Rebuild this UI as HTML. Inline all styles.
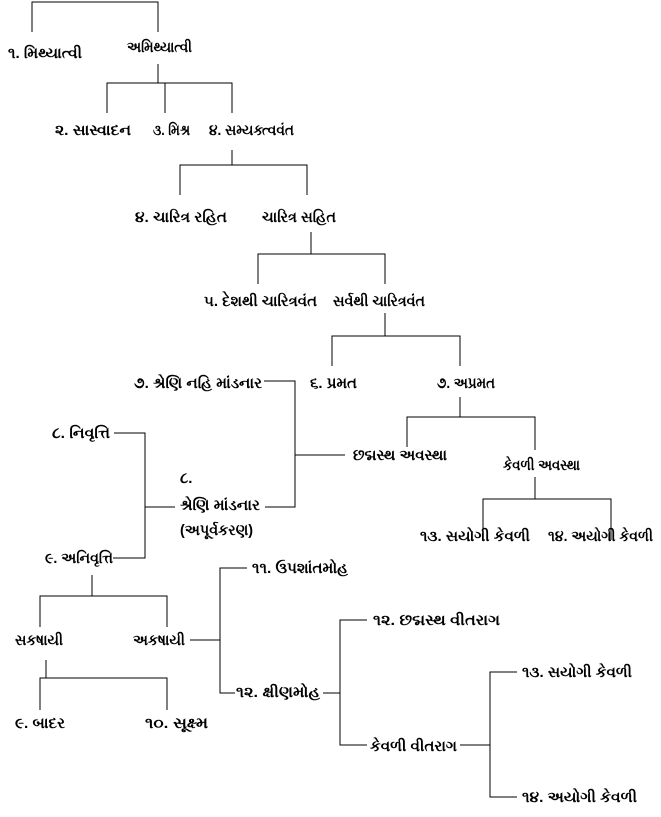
<!DOCTYPE html>
<html><head><meta charset="utf-8"><style>
html,body{margin:0;padding:0;background:#fff;width:661px;height:817px;overflow:hidden}
svg text{font-family:"Liberation Sans","Noto Sans CJK SC",sans-serif;font-size:15px;font-weight:bold;fill:#000}
</style></head><body>
<svg width="661" height="817" viewBox="0 0 661 817" xmlns="http://www.w3.org/2000/svg">
<g stroke="#000" stroke-width="1.2" fill="none" shape-rendering="crispEdges">
<path d="M32 32V2H158V32"/>
<path d="M158 64V83M107 113V83H232V113M165 83V113"/>
<path d="M232 150V165M180 195V165H307V195"/>
<path d="M311 232V254M258 284V254H385V284"/>
<path d="M385 313V336M332 366V336H460V366"/>
<path d="M264 381H295V507H265M295 455H345"/>
<path d="M460 397V417M407 447V417H535V450"/>
<path d="M535 477V499M483 540V499H611V540"/>
<path d="M114 433H145V558H113M145 507H175"/>
<path d="M92 575V596M40 627V596H167V627"/>
<path d="M190 640H220M247 568H220V693H235"/>
<path d="M46 660V678M40 710V678H167V710"/>
<path d="M323 693H340M367 620H340V745H367"/>
<path d="M460 745H490M517 672H490V797H517"/>
</g>
<g>
<text x="8" y="58" textLength="74" lengthAdjust="spacingAndGlyphs">૧. મિથ્યાત્વી</text>
<text x="127" y="52" textLength="65" lengthAdjust="spacingAndGlyphs">અમિથ્યાત્વી</text>
<text x="55" y="135" textLength="76" lengthAdjust="spacingAndGlyphs">૨. સાસ્વાદન</text>
<text x="153" y="135" textLength="37" lengthAdjust="spacingAndGlyphs">૩. મિશ્ર</text>
<text x="209" y="135" textLength="85" lengthAdjust="spacingAndGlyphs">૪. સમ્યક્ત્વવંત</text>
<text x="135" y="222" textLength="92" lengthAdjust="spacingAndGlyphs">૪. ચારિત્ર રહિત</text>
<text x="262" y="222" textLength="74" lengthAdjust="spacingAndGlyphs">ચારિત્ર સહિત</text>
<text x="204" y="306" textLength="113" lengthAdjust="spacingAndGlyphs">૫. દેશથી ચારિત્રવંત</text>
<text x="333" y="306" textLength="92" lengthAdjust="spacingAndGlyphs">સર્વથી ચારિત્રવંત</text>
<text x="134" y="388" textLength="128" lengthAdjust="spacingAndGlyphs">૭. શ્રેણિ નહિ માંડનાર</text>
<text x="310" y="388" textLength="47" lengthAdjust="spacingAndGlyphs">૬. પ્રમત</text>
<text x="437" y="388" textLength="58" lengthAdjust="spacingAndGlyphs">૭. અપ્રમત</text>
<text x="52" y="438" textLength="58" lengthAdjust="spacingAndGlyphs">૮. નિવૃત્તિ</text>
<text x="353" y="460" textLength="94" lengthAdjust="spacingAndGlyphs">છદ્મસ્થ અવસ્થા</text>
<text x="503" y="470" textLength="77" lengthAdjust="spacingAndGlyphs">કેવળી અવસ્થા</text>
<text x="180" y="483">૮.</text>
<text x="180" y="510" textLength="80" lengthAdjust="spacingAndGlyphs">શ્રેણિ માંડનાર</text>
<text x="180" y="535" textLength="73" lengthAdjust="spacingAndGlyphs">(અપૂર્વકરણ)</text>
<text x="420" y="541" textLength="110" lengthAdjust="spacingAndGlyphs">૧૩. સયોગી કેવળી</text>
<text x="548" y="541" textLength="105" lengthAdjust="spacingAndGlyphs">૧૪. અયોગી કેવળી</text>
<text x="45" y="563" textLength="68" lengthAdjust="spacingAndGlyphs">૯. અનિવૃત્તિ</text>
<text x="252" y="573" textLength="96" lengthAdjust="spacingAndGlyphs">૧૧. ઉપશાંતમોહ</text>
<text x="373" y="625" textLength="127" lengthAdjust="spacingAndGlyphs">૧૨. છદ્મસ્થ વીતરાગ</text>
<text x="15" y="645" textLength="48" lengthAdjust="spacingAndGlyphs">સકષાયી</text>
<text x="133" y="645" textLength="52" lengthAdjust="spacingAndGlyphs">અકષાયી</text>
<text x="522" y="677" textLength="110" lengthAdjust="spacingAndGlyphs">૧૩. સયોગી કેવળી</text>
<text x="236" y="697" textLength="84" lengthAdjust="spacingAndGlyphs">૧૨. ક્ષીણમોહ</text>
<text x="15" y="728" textLength="50" lengthAdjust="spacingAndGlyphs">૯. બાદર</text>
<text x="145" y="728" textLength="63" lengthAdjust="spacingAndGlyphs">૧૦. સૂક્ષ્મ</text>
<text x="370" y="751" textLength="87" lengthAdjust="spacingAndGlyphs">કેવળી વીતરાગ</text>
<text x="522" y="802" textLength="115" lengthAdjust="spacingAndGlyphs">૧૪. અયોગી કેવળી</text>
</g>
</svg>
</body></html>
